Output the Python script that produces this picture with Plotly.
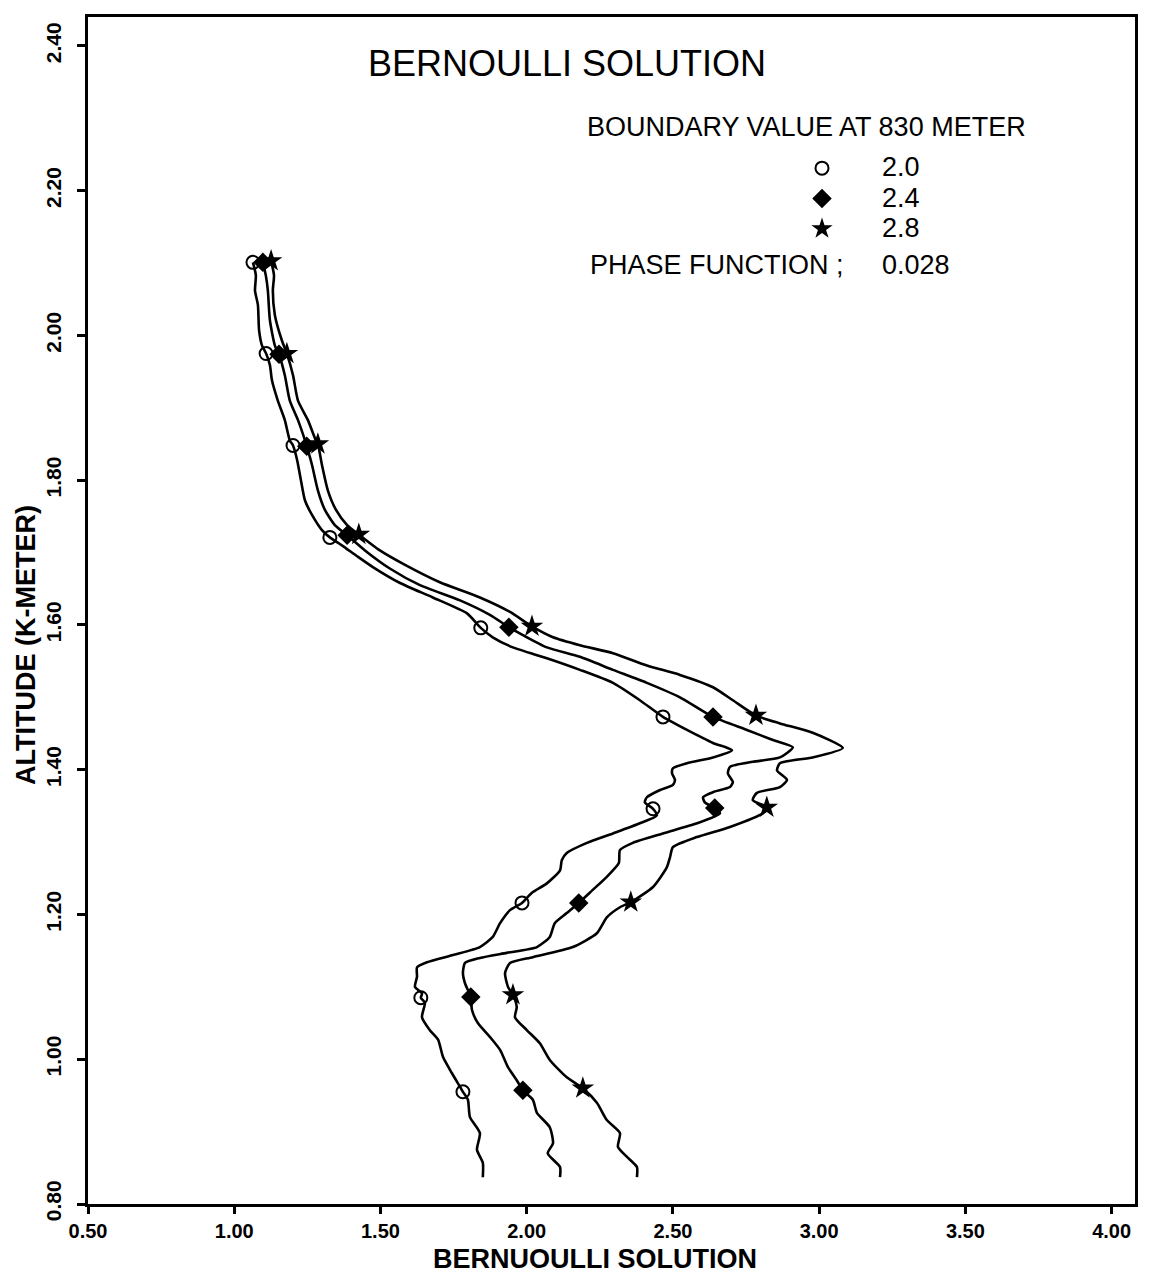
import plotly.graph_objects as go

# ---------------- data ----------------
# Boundary value 2.0 (open circles)
alt_20 = [2.101, 2.083, 2.062, 2.042, 2.007, 1.986, 1.975, 1.959, 1.938, 1.910,
          1.883, 1.855, 1.848, 1.828, 1.800, 1.772, 1.752, 1.731, 1.721, 1.710,
          1.695, 1.680, 1.658, 1.638, 1.616, 1.596, 1.583, 1.569, 1.554, 1.538,
          1.520, 1.496, 1.473, 1.455, 1.437, 1.427, 1.417, 1.409, 1.402, 1.395,
          1.386, 1.379, 1.372, 1.362, 1.355, 1.346, 1.337, 1.326, 1.312, 1.299,
          1.285, 1.275, 1.261, 1.243, 1.230, 1.216, 1.206, 1.188, 1.169, 1.155,
          1.144, 1.134, 1.127, 1.114, 1.100, 1.091, 1.085, 1.078, 1.058, 1.040,
          1.027, 1.003, 0.981, 0.962, 0.955, 0.944, 0.920, 0.898, 0.875, 0.857,
          0.837]
sol_20 = [1.064, 1.074, 1.071, 1.081, 1.085, 1.095, 1.109, 1.122, 1.129, 1.149,
          1.173, 1.190, 1.201, 1.215, 1.228, 1.242, 1.266, 1.300, 1.327, 1.368,
          1.420, 1.474, 1.567, 1.679, 1.796, 1.843, 1.884, 1.953, 2.069, 2.182,
          2.295, 2.387, 2.466, 2.548, 2.637, 2.702, 2.637, 2.548, 2.500, 2.497,
          2.507, 2.500, 2.456, 2.411, 2.404, 2.432, 2.445, 2.387, 2.295, 2.206,
          2.137, 2.120, 2.114, 2.069, 2.018, 1.984, 1.943, 1.909, 1.884, 1.840,
          1.748, 1.659, 1.625, 1.625, 1.618, 1.642, 1.638, 1.652, 1.642, 1.669,
          1.697, 1.714, 1.744, 1.772, 1.782, 1.799, 1.806, 1.840, 1.830, 1.850,
          1.850]
mk_alt_20 = [2.101, 1.975, 1.848, 1.721, 1.596, 1.473, 1.346, 1.216, 1.085, 0.955]
mk_sol_20 = [1.064, 1.109, 1.201, 1.327, 1.843, 2.466, 2.432, 1.984, 1.638, 1.782]

# Boundary value 2.4 (filled diamonds)
alt_24 = [2.101, 2.083, 2.062, 2.021, 1.986, 1.974, 1.945, 1.910, 1.883, 1.855,
          1.847, 1.821, 1.786, 1.759, 1.738, 1.724, 1.703, 1.678, 1.655, 1.634,
          1.614, 1.597, 1.586, 1.569, 1.556, 1.538, 1.520, 1.500, 1.473, 1.455,
          1.441, 1.431, 1.417, 1.411, 1.404, 1.395, 1.383, 1.376, 1.369, 1.362,
          1.355, 1.347, 1.340, 1.326, 1.312, 1.299, 1.289, 1.271, 1.252, 1.234,
          1.216, 1.202, 1.188, 1.169, 1.155, 1.147, 1.140, 1.133, 1.119, 1.105,
          1.086, 1.068, 1.050, 1.031, 1.013, 0.989, 0.971, 0.957, 0.944, 0.926,
          0.906, 0.884, 0.870, 0.851, 0.837]
sol_24 = [1.098, 1.108, 1.115, 1.122, 1.139, 1.153, 1.173, 1.190, 1.218, 1.242,
          1.248, 1.266, 1.286, 1.310, 1.344, 1.386, 1.447, 1.532, 1.635, 1.772,
          1.874, 1.939, 1.987, 2.069, 2.182, 2.295, 2.411, 2.524, 2.637, 2.753,
          2.842, 2.910, 2.866, 2.773, 2.695, 2.688, 2.705, 2.695, 2.637, 2.603,
          2.609, 2.643, 2.661, 2.582, 2.466, 2.363, 2.319, 2.315, 2.274, 2.226,
          2.178, 2.137, 2.096, 2.079, 2.035, 1.932, 1.840, 1.789, 1.782, 1.789,
          1.809, 1.813, 1.833, 1.874, 1.909, 1.936, 1.966, 1.987, 2.021, 2.035,
          2.079, 2.090, 2.072, 2.114, 2.114]
mk_alt_24 = [2.101, 1.974, 1.847, 1.724, 1.597, 1.473, 1.347, 1.216, 1.086, 0.957]
mk_sol_24 = [1.098, 1.153, 1.248, 1.386, 1.939, 2.637, 2.643, 2.178, 1.809, 1.987]

# Boundary value 2.8 (stars)
alt_28 = [2.103, 2.083, 2.062, 2.028, 1.993, 1.975, 1.945, 1.910, 1.883, 1.855,
          1.850, 1.821, 1.786, 1.759, 1.738, 1.725, 1.703, 1.683, 1.659, 1.638,
          1.618, 1.598, 1.583, 1.572, 1.561, 1.544, 1.531, 1.514, 1.496, 1.475,
          1.464, 1.451, 1.430, 1.417, 1.409, 1.399, 1.386, 1.376, 1.368, 1.358,
          1.348, 1.340, 1.321, 1.307, 1.293, 1.279, 1.265, 1.238, 1.217, 1.210,
          1.196, 1.174, 1.155, 1.141, 1.133, 1.119, 1.100, 1.089, 1.072, 1.058,
          1.040, 1.022, 0.999, 0.975, 0.960, 0.940, 0.916, 0.898, 0.879, 0.865,
          0.851, 0.837]
sol_28 = [1.126, 1.136, 1.132, 1.139, 1.163, 1.180, 1.201, 1.218, 1.252, 1.279,
          1.286, 1.300, 1.320, 1.348, 1.386, 1.426, 1.498, 1.584, 1.703, 1.840,
          1.943, 2.018, 2.090, 2.182, 2.295, 2.411, 2.524, 2.637, 2.705, 2.784,
          2.866, 2.978, 3.081, 2.978, 2.866, 2.856, 2.890, 2.866, 2.787, 2.773,
          2.821, 2.807, 2.695, 2.582, 2.500, 2.490, 2.479, 2.432, 2.356, 2.319,
          2.274, 2.240, 2.158, 2.021, 1.943, 1.926, 1.936, 1.953, 1.966, 1.960,
          2.001, 2.045, 2.079, 2.137, 2.192, 2.240, 2.274, 2.319, 2.312, 2.343,
          2.377, 2.377]
mk_alt_28 = [2.103, 1.975, 1.850, 1.725, 1.598, 1.475, 1.348, 1.217, 1.089, 0.960]
mk_sol_28 = [1.126, 1.180, 1.286, 1.426, 2.018, 2.784, 2.821, 2.356, 1.953, 2.192]

series_names = ["2.0", "2.4", "2.8"]
x_ticks = [0.5, 1.0, 1.5, 2.0, 2.5, 3.0, 3.5, 4.0]
y_ticks = [0.8, 1.0, 1.2, 1.4, 1.6, 1.8, 2.0, 2.2, 2.4]

# ---------------- figure ----------------
FONT = "Liberation Sans, Arial, sans-serif"
fig = go.Figure()

lines = [(sol_20, alt_20), (sol_24, alt_24), (sol_28, alt_28)]
marks = [(mk_sol_20, mk_alt_20), (mk_sol_24, mk_alt_24), (mk_sol_28, mk_alt_28)]
symbols = [
    dict(symbol="circle-open", size=13, color="black", line=dict(width=2, color="black")),
    dict(symbol="diamond", size=15, color="black", line=dict(width=0)),
    dict(symbol="star", size=17, color="black", line=dict(width=0)),
]

for (xs, ys) in lines:
    fig.add_trace(go.Scatter(x=xs, y=ys, mode="lines", showlegend=False,
                             line=dict(color="black", width=2.6, shape="spline", smoothing=0.6),
                             hoverinfo="skip"))
for name, (xs, ys), mk in zip(series_names, marks, symbols):
    fig.add_trace(go.Scatter(
        x=xs, y=ys, mode="markers", marker=mk,
        name="<span style='font-size:27px'>" + name + "</span>",
        showlegend=True))

# page offset of the figure (browser default body margin)
OFF = 8
FIG_W, FIG_H = 1160 - OFF, 1277 - OFF
# plot area in page pixels
PL, PR, PT, PB = 88, 1135, 17, 1204
W, H = PR - PL, PB - PT

def px(xp):
    return (xp - PL) / W

def py(yp):
    return (PB - yp) / H

annotations = [
    dict(text="BERNOULLI SOLUTION", x=px(567), y=py(63), xanchor="center", yanchor="middle",
         font=dict(size=36, family=FONT, color="black")),
    dict(text="BOUNDARY VALUE AT 830 METER", x=px(585), y=py(127), xanchor="left", yanchor="middle",
         font=dict(size=27, family=FONT, color="black")),
    dict(text="PHASE FUNCTION ;", x=px(588), y=py(265), xanchor="left", yanchor="middle",
         font=dict(size=27, family=FONT, color="black")),
    dict(text="0.028", x=px(880), y=py(265), xanchor="left", yanchor="middle",
         font=dict(size=27, family=FONT, color="black")),
    dict(text="<b>BERNUOULLI SOLUTION</b>", x=px(595), y=py(1259), xanchor="center", yanchor="middle",
         font=dict(size=27, family=FONT, color="black")),
    dict(text="<b>ALTITUDE (K-METER)</b>", x=px(26), y=py(645), xanchor="center", yanchor="middle",
         textangle=-90, font=dict(size=27, family=FONT, color="black")),
]
for a in annotations:
    a.update(xref="paper", yref="paper", showarrow=False)

fig.update_layout(
    width=FIG_W, height=FIG_H,
    margin=dict(l=PL - OFF, r=FIG_W - (PR - OFF), t=PT - OFF, b=FIG_H - (PB - OFF),
                autoexpand=False),
    paper_bgcolor="white", plot_bgcolor="white",
    font=dict(family=FONT, color="black"),
    annotations=annotations,
    legend=dict(x=px(762), y=py(148), xanchor="left", yanchor="top",
                bgcolor="rgba(0,0,0,0)", borderwidth=0, itemwidth=110,
                font=dict(size=21, family=FONT, color="black"),
                tracegroupgap=0),
    showlegend=True,
)
fig.update_xaxes(range=[0.5, 4.08], tickvals=x_ticks,
                 ticktext=[f"<b>{v:.2f}</b>" for v in x_ticks], automargin=False,
                 showgrid=False, zeroline=False, showline=True, linecolor="black", linewidth=2.8,
                 mirror=True, ticks="outside", ticklen=7, tickwidth=2.5, tickcolor="black",
                 tickfont=dict(size=20, family=FONT, color="black"))
fig.update_yaxes(range=[0.8, 2.44], tickvals=y_ticks,
                 ticktext=[f"<b>{v:.2f}</b>" for v in y_ticks], automargin=False,
                 showgrid=False, zeroline=False, showline=True, linecolor="black", linewidth=2.8,
                 mirror=True, ticks="outside", ticklen=8, tickwidth=2.5, tickcolor="black",
                 tickangle=-90, ticklabelstandoff=8,
                 tickfont=dict(size=21, family=FONT, color="black"))

fig.write_html("out.html")
